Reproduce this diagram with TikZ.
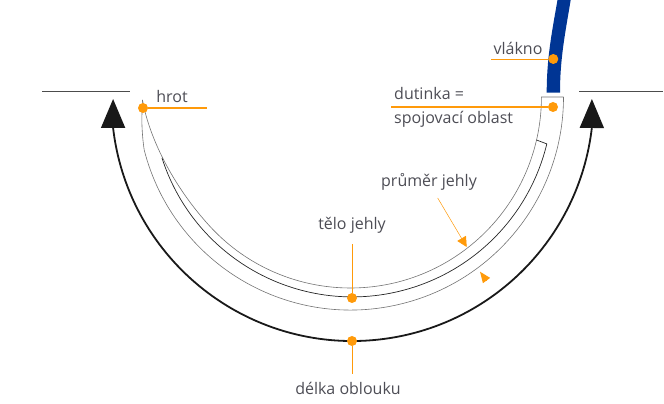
\documentclass[tikz,border=0pt]{standalone}
\usepackage{fontspec}
\setmainfont{Open Sans}
\usetikzlibrary{arrows.meta}
\definecolor{marker}{HTML}{FF9A0A}
\definecolor{fibre}{HTML}{003594}
\definecolor{label}{HTML}{4D4D55}
\tikzset{
  x=1pt, y=1pt,
  txt/.style={text=label, font=\fontsize{16}{18}\selectfont, inner sep=0pt},
  dot/.style={circle, fill=marker, inner sep=0pt, minimum size=10pt},
  lead/.style={draw=marker, line width=.9pt},
  leadthick/.style={draw=marker, line width=1.8pt},
  wall/.style={draw=black!55, line width=.6pt},
  pointer/.style={draw=marker, line width=.5pt, -{Triangle[length=10pt,width=10pt]}},
  stub/.style={draw=marker, line width=0pt, -{Triangle[length=11pt,width=9pt]}},
  span/.style={draw=black!90, line width=1.8pt, {Triangle[length=29pt,width=24pt]}-{Triangle[length=29pt,width=24pt]}},
  rule/.style={draw=black!70, line width=.7pt}
}
\begin{document}
\begin{tikzpicture}
  \useasboundingbox (0,0) rectangle (664,404);
  % thread
  \fill[fibre] (546.7,311.3) .. controls (546.7,345) and (551.5,370) .. (557.5,404)
    -- (570.7,404) .. controls (565,370) and (560,345) .. (560,311.3) -- cycle;
  % needle outline
  \coordinate (tip) at (142.5,304);
  \draw[wall] (tip) -- (141.8,285) .. controls (142,272) and (143,262) .. (144.2,254)
    arc[start angle=194.4, end angle=360, radius=213];
  \draw[wall] (tip) .. controls (148,272) and (168.4,223.8) .. (208.5,179.2)
    arc[start angle=222, end angle=360, radius=191] -- (563.5,307);
  \draw[black!85, line width=.7pt] (162,246)
    arc[start angle=197.8, end angle=346.4, radius=200] -- (536.5,264);
  % reference lines
  \coordinate (leftA) at (42,313);
  \coordinate (leftB) at (130,313);
  \coordinate (rightA) at (579,313);
  \coordinate (rightB) at (663,313);
  \draw[rule] (leftA) -- (leftB);
  \draw[rule] (rightA) -- (rightB);
  % arc length
  \draw[span] (113.1,305) -- (113.1,276)
    arc[start angle=186.67, end angle=353.33, radius=241] -- (591.9,305);
  % labels
  \node[txt] (hrot) at (172,307) {hrot};
  \node[txt] (vlakno) at (518,356) {vlákno};
  \node[txt, anchor=west] (dutinka) at (394,310) {dutinka =};
  \node[txt, anchor=west] (oblast) at (394,285) {spojovací oblast};
  \node[txt] (prumer) at (429,222) {průměr jehly};
  \node[txt] (telo) at (352,179) {tělo jehly};
  \node[txt] (delka) at (348,16) {délka oblouku};
  % markers
  \node[dot] (hrotdot) at (143,296) {};
  \node[dot] (vlaknodot) at (553.3,345) {};
  \node[dot] (dutinkadot) at (553,297) {};
  \node[dot] (telodot) at (352,106) {};
  \node[dot] (delkadot) at (352,63) {};
  \coordinate (hrotend) at (207,296);
  \coordinate (vlaknoend) at (491,345);
  \coordinate (dutinkaend) at (391,297);
  \coordinate (teloend) at (352,160);
  \coordinate (delkaend) at (352,30);
  \draw[leadthick] (hrotdot) -- (hrotend);
  \draw[lead, line width=.6pt] (vlaknodot) -- (vlaknoend);
  \draw[leadthick, line width=1.4pt] (dutinkadot) -- (dutinkaend);
  \draw[lead] (telodot) -- (teloend);
  \draw[lead] (delkadot) -- (delkaend);
  % diameter pointers
  \coordinate (widthfrom) at (437.7,206);
  \coordinate (widthto) at (466.7,157);
  \coordinate (widthback) at (486.7,123.2);
  \coordinate (widthtip) at (480,132.3);
  \draw[pointer] (widthfrom) -- (widthto);
  \draw[stub] (widthback) -- (widthtip);
\end{tikzpicture}
\end{document}
